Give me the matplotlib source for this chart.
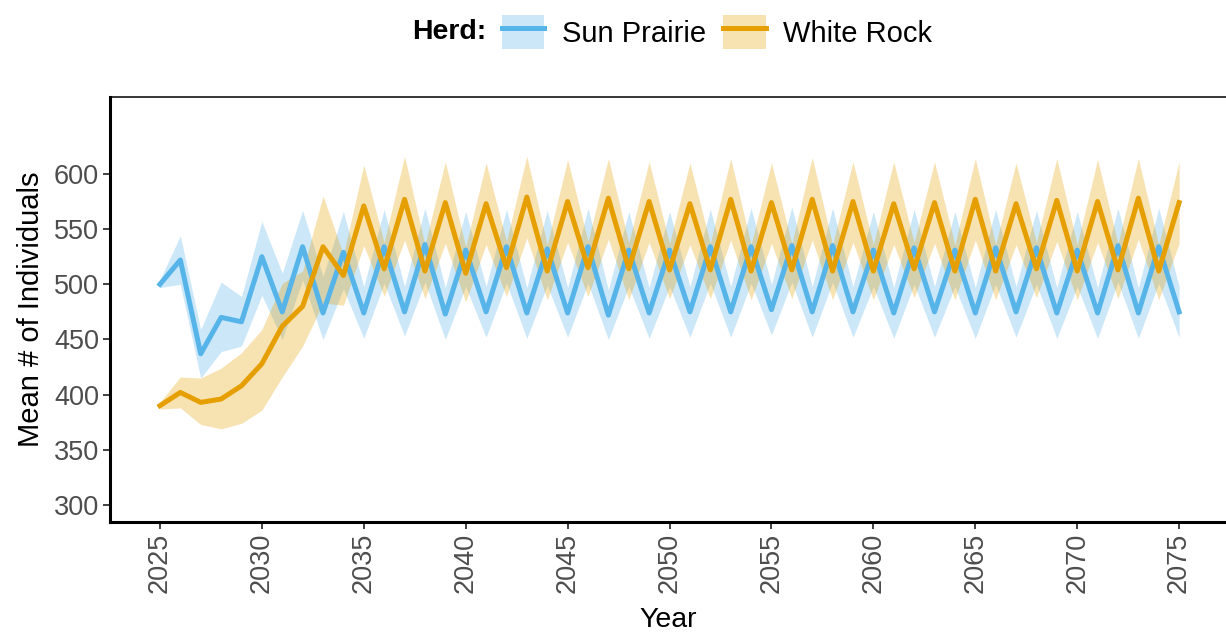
import matplotlib
matplotlib.use("Agg")
import matplotlib.pyplot as plt
from matplotlib.patches import Patch
from matplotlib.lines import Line2D
from matplotlib.legend_handler import HandlerTuple

plt.rcParams['font.family'] = ['Liberation Sans', 'DejaVu Sans']

years = list(range(2025, 2076))

# Sun Prairie herd: mean and interval bounds
sun_mean = [500, 522, 437, 470, 466, 525, 475, 534, 474, 529,
            474, 534, 475, 536, 473, 531, 475, 534, 474, 532,
            474, 534, 472, 531, 474, 531, 475, 534, 475, 534,
            477, 535, 475, 535, 475, 531, 474, 533, 475, 531,
            474, 533, 475, 533, 474, 531, 474, 535, 474, 534,
            475]
sun_lo = [497, 500, 415, 439, 444, 490, 450, 504, 450, 496,
          451, 501, 453, 502, 450, 498, 452, 501, 451, 499,
          452, 501, 450, 498, 451, 498, 452, 501, 452, 501,
          454, 502, 452, 502, 452, 498, 451, 500, 452, 498,
          451, 500, 452, 500, 451, 498, 451, 502, 451, 501,
          452]
sun_hi = [504, 544, 459, 502, 489, 557, 510, 567, 507, 566,
          498, 568, 498, 569, 497, 566, 498, 568, 497, 567,
          497, 569, 495, 566, 497, 566, 498, 568, 498, 569,
          500, 570, 498, 569, 498, 566, 497, 568, 498, 566,
          497, 568, 498, 567, 497, 566, 497, 569, 497, 569,
          498]

# White Rock herd: mean and interval bounds
white_mean = [390, 402, 393, 396, 408, 428, 462, 480, 534, 508,
              571, 514, 577, 512, 574, 510, 573, 515, 579, 512,
              575, 515, 578, 514, 575, 513, 573, 513, 577, 512,
              574, 513, 577, 512, 575, 512, 573, 514, 574, 512,
              577, 512, 573, 514, 576, 512, 575, 513, 578, 512,
              574]
white_lo = [387, 388, 373, 369, 374, 386, 416, 444, 483, 481,
            535, 489, 540, 487, 537, 484, 536, 489, 542, 486,
            538, 489, 541, 486, 538, 487, 536, 487, 540, 486,
            537, 487, 540, 486, 538, 486, 536, 488, 537, 486,
            540, 486, 536, 488, 539, 486, 538, 487, 541, 486,
            537]
white_hi = [393, 416, 415, 424, 438, 459, 501, 512, 580, 527,
            608, 538, 616, 536, 611, 534, 610, 539, 616, 536,
            613, 539, 614, 538, 611, 537, 610, 537, 614, 536,
            610, 537, 615, 536, 611, 536, 611, 538, 611, 536,
            614, 536, 610, 538, 614, 536, 613, 537, 614, 536,
            611]

blue = '#56B4E9'
orange = '#E69F00'

fig = plt.figure(figsize=(12.26, 6.35), dpi=100)
ax = fig.add_axes([110 / 1226, 1 - 522 / 635, 1 - 110 / 1226, (522 - 97) / 635])

ax.fill_between(years, sun_lo, sun_hi, color=blue, alpha=0.3, lw=0)
ax.fill_between(years, white_lo, white_hi, color=orange, alpha=0.3, lw=0)
ax.plot(years, sun_mean, color=blue, lw=3.6, solid_joinstyle='round')
ax.plot(years, white_mean, color=orange, lw=3.6, solid_joinstyle='round')

ax.set_xlim(2022.55, 2077.3)
ax.set_ylim(284.6, 669.7)
ax.set_xticks(range(2025, 2076, 5))
ax.set_yticks(range(300, 601, 50))
ax.tick_params(axis='x', labelrotation=90)
ax.tick_params(labelsize=19.5, labelcolor='#4D4D4D', length=5, width=1.3,
               color='#333333', pad=3)

for side in ['left', 'bottom']:
    ax.spines[side].set_linewidth(2.2)
ax.spines['top'].set_linewidth(1.1)
ax.spines['right'].set_visible(False)

ax.set_xlabel('Year', fontsize=20.5, labelpad=10)
ax.set_ylabel('Mean # of Individuals', fontsize=21, labelpad=6)

handles = [
    (Patch(facecolor=blue, alpha=0.3, lw=0), Line2D([], [], color=blue, lw=3.6)),
    (Patch(facecolor=orange, alpha=0.3, lw=0), Line2D([], [], color=orange, lw=3.6)),
]
fig.text(486 / 1226, 1 - 32 / 635, 'Herd:', fontsize=20.5, fontweight='bold',
         ha='right', va='center')
fig.legend(handles, ['Sun Prairie', 'White Rock'], ncol=2,
           handler_map={tuple: HandlerTuple(ndivide=1)},
           loc='center left', bbox_to_anchor=(502 / 1226, 1 - 32 / 635),
           frameon=False, fontsize=21, borderpad=0, borderaxespad=0,
           handlelength=1.45, handleheight=1.45, handletextpad=0.6,
           columnspacing=0.6)

fig.savefig('out.png', dpi=100)
